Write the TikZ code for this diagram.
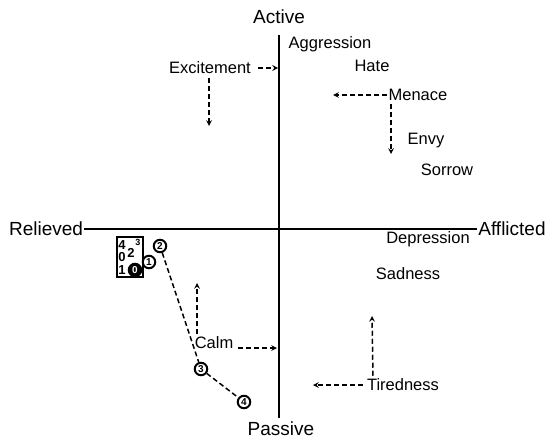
\documentclass[tikz,border=0pt]{standalone}
\usepackage{fontspec}
\setmainfont{Liberation Sans}
\usetikzlibrary{calc}
\tikzset{>=stealth}

\begin{document}
\begin{tikzpicture}[x=1pt,y=-1pt,
    word/.style={font=\fontsize{16.5}{18}\selectfont, inner sep=1pt},
    pole/.style={font=\fontsize{19}{22}\selectfont, inner sep=1pt},
    shiftarrow/.style={-stealth, line width=1.5pt, dash pattern=on 5pt off 3pt},
    stage/.style={circle, draw, line width=2pt, inner sep=0pt, minimum size=12.5pt, font=\fontsize{10}{10}\selectfont\bfseries},
    digit/.style={font=\fontsize{13}{13}\selectfont\bfseries, inner sep=0pt},
    path/.style={line width=1.5pt, dash pattern=on 5pt off 3pt}]
        \useasboundingbox (0,0) rectangle (554,439);

        % axes
        \node[pole] (active) at (279,17) {Active};
        \node[pole] (passive) at (281,429) {Passive};
        \node[pole] (relieved) at (46,229) {Relieved};
        \node[pole] (afflicted) at (512,229) {Afflicted};
        \coordinate (top) at (279,35);
        \coordinate (bottom) at (279,418);
        \draw[line width=1.6pt] (top)--(bottom);
        \draw[line width=1.6pt] (relieved.east)--(afflicted.west);

        % emotion words
        \node[word] (aggr) at (330,44) {Aggression};
        \node[word] (hate) at (372,66) {Hate};
        \node[word] (menace) at (418,95) {Menace};
        \node[word] (envy) at (426,141) {Envy};
        \node[word] (sorrow) at (447,170) {Sorrow};
        \node[word] (depr) at (428,239) {Depression};
        \node[word] (sad) at (408,274) {Sadness};
        \node[word] (tired) at (403,385) {Tiredness};
        \node[word] (calm) at (214,343) {Calm};
        \node[word] (excite) at (210,68) {Excitement};

        % shifts
        \coordinate (ex r) at (278,68);
        \coordinate (ex d) at (209,126);
        \draw[shiftarrow] ([xshift=6pt]excite.east)--(ex r);
        \draw[shiftarrow] ([xshift=-1pt,yshift=-3pt]excite.south)--(ex d);
        \coordinate (me l) at (333,95);
        \coordinate (me d) at (391,154);
        \draw[shiftarrow] (menace.west)--(me l);
        \draw[shiftarrow] ([xshift=-27pt,yshift=-2pt]menace.south)--(me d);
        \coordinate (ti l) at (313,385);
        \coordinate (ti u) at (372,316);
        \draw[shiftarrow] ([xshift=-3pt]tired.west)--(ti l);
        \draw[shiftarrow] ([xshift=-30pt,yshift=2pt]tired.north)--(ti u);
        \coordinate (ca r) at (277,348);
        \coordinate (ca u) at (197,283);
        \draw[shiftarrow] ($(calm.east |- ca r)+(4,0)$)--(ca r);
        \draw[shiftarrow] ([xshift=-17pt,yshift=2pt]calm.north)--(ca u);

        % stages
        \draw[line width=1.8pt] (117,237) rectangle (143,277);
        \node[digit] (s four) at (122,245) {4};
        \node[digit, font=\fontsize{9}{9}\selectfont\bfseries] (s three) at (138,242) {3};
        \node[digit] (s zero b) at (122,257) {0};
        \node[digit] (s two b) at (131,253) {2};
        \node[digit] (s one b) at (122,270) {1};
        \node[stage, fill=black, text=white] (s0) at (135,270) {0};
        \node[stage, fill=white] (s1) at (149,262) {1};
        \node[stage, fill=white] (s2) at (160,246) {2};
        \node[stage] (s3) at (201,369) {3};
        \node[stage] (s4) at (244,402) {4};
        \draw[path] (s2)--(s3);
        \draw[path] (s3)--(s4);
    \end{tikzpicture}
\end{document}
